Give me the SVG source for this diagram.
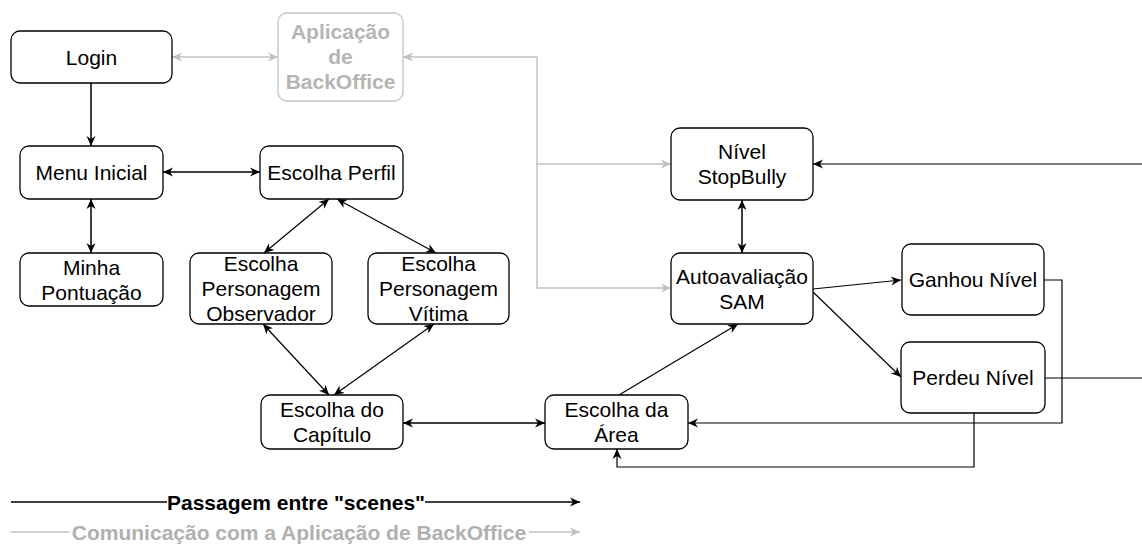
<svg xmlns="http://www.w3.org/2000/svg" width="1142" height="547" viewBox="0 0 1142 547">
<style>
.box{fill:#fff;stroke:#000;stroke-width:1.3}
.gbox{fill:#fff;stroke:#c4c4c4;stroke-width:1.3}
.t{font-family:"Liberation Sans",Arial,sans-serif;font-size:21px;fill:#000;text-anchor:middle}
.gt{font-family:"Liberation Sans",Arial,sans-serif;font-size:21px;font-weight:bold;fill:#b5b5b5;text-anchor:middle}
.e{fill:none;stroke:#000;stroke-width:1.5}
.ed{fill:none;stroke:#000;stroke-width:1.2}
.g{fill:none;stroke:#c0c0c0;stroke-width:1.5}
.lt{font-family:"Liberation Sans",Arial,sans-serif;font-size:21px;font-weight:bold;text-anchor:middle}
</style>
<defs>
<marker id="ab" markerUnits="userSpaceOnUse" markerWidth="12" markerHeight="10" refX="10" refY="5" orient="auto-start-reverse" viewBox="0 0 12 10">
<path d="M0,0.5 L10,5 L0,9.5 L3,5 z" fill="#000"/>
</marker>
<marker id="ag" markerUnits="userSpaceOnUse" markerWidth="12" markerHeight="10" refX="10" refY="5" orient="auto-start-reverse" viewBox="0 0 12 10">
<path d="M0,0.5 L10,5 L0,9.5 L3,5 z" fill="#c0c0c0"/>
</marker>
</defs>
<rect width="1142" height="547" fill="#fff"/>

<g id="connectors">
<path class="g" d="M172,57 H278" marker-start="url(#ag)" marker-end="url(#ag)"/>
<path class="g" d="M403,57 H537 V164 H671" marker-start="url(#ag)" marker-end="url(#ag)"/>
<path class="g" d="M537,164 V288 H671" marker-end="url(#ag)"/>
<path class="e" d="M91,83 V146" marker-end="url(#ab)"/>
<path class="e" d="M163,172 H260" marker-start="url(#ab)" marker-end="url(#ab)"/>
<path class="e" d="M91,199 V253" marker-start="url(#ab)" marker-end="url(#ab)"/>
<path class="ed" d="M329,199 L264,253" marker-start="url(#ab)" marker-end="url(#ab)"/>
<path class="ed" d="M337,199 L436,253" marker-start="url(#ab)" marker-end="url(#ab)"/>
<path class="ed" d="M263,324 L329,395" marker-start="url(#ab)" marker-end="url(#ab)"/>
<path class="ed" d="M434,324 L334,395" marker-start="url(#ab)" marker-end="url(#ab)"/>
<path class="e" d="M403,423 H545" marker-start="url(#ab)" marker-end="url(#ab)"/>
<path class="ed" d="M619,395 L738,324" marker-end="url(#ab)"/>
<path class="e" d="M742,200 V253" marker-start="url(#ab)" marker-end="url(#ab)"/>
<path class="ed" d="M813,289 L901,280" marker-end="url(#ab)"/>
<path class="ed" d="M813,292 L901,377" marker-end="url(#ab)"/>
<path class="ed" d="M1044,280 H1062 V423 H688" marker-end="url(#ab)"/>
<path class="ed" d="M974,413 V467 H617 V449" marker-end="url(#ab)"/>
<path class="ed" d="M1045,378 H1160 V164 H813" marker-end="url(#ab)"/>
</g>

<g id="login"><rect class="box" x="11" y="31" width="161" height="52" rx="9"/><text class="t" x="91.5" y="64.5">Login</text></g>
<g id="backoffice"><rect class="gbox" x="278" y="13" width="125" height="88" rx="9"/>
<text class="gt" x="340.5" y="39">Aplicação</text><text class="gt" x="340.5" y="64">de</text><text class="gt" x="340.5" y="89">BackOffice</text></g>
<g id="menu"><rect class="box" x="20" y="146" width="143" height="53" rx="9"/><text class="t" x="91.5" y="179.5">Menu Inicial</text></g>
<g id="perfil"><rect class="box" x="260" y="146" width="143" height="53" rx="9"/><text class="t" x="331.5" y="179.5">Escolha Perfil</text></g>
<g id="pontuacao"><rect class="box" x="20" y="253" width="143" height="53" rx="9"/><text class="t" x="91.5" y="274.5">Minha</text><text class="t" x="91.5" y="299.5">Pontuação</text></g>
<g id="observador"><rect class="box" x="190" y="253" width="142" height="71" rx="9"/><text class="t" x="261" y="271">Escolha</text><text class="t" x="261" y="296">Personagem</text><text class="t" x="261" y="321">Observador</text></g>
<g id="vitima"><rect class="box" x="368" y="253" width="141" height="71" rx="9"/><text class="t" x="438.5" y="271">Escolha</text><text class="t" x="438.5" y="296">Personagem</text><text class="t" x="438.5" y="321">Vítima</text></g>
<g id="capitulo"><rect class="box" x="261" y="395" width="142" height="54" rx="9"/><text class="t" x="332" y="417">Escolha do</text><text class="t" x="332" y="442">Capítulo</text></g>
<g id="area"><rect class="box" x="545" y="395" width="143" height="54" rx="9"/><text class="t" x="616.5" y="417">Escolha da</text><text class="t" x="616.5" y="442">Área</text></g>
<g id="nivel"><rect class="box" x="671" y="128" width="142" height="72" rx="9"/><text class="t" x="742" y="159">Nível</text><text class="t" x="742" y="184">StopBully</text></g>
<g id="auto"><rect class="box" x="671" y="253" width="142" height="71" rx="9"/><text class="t" x="742" y="283.5">Autoavaliação</text><text class="t" x="742" y="308.5">SAM</text></g>
<g id="ganhou"><rect class="box" x="902" y="244" width="142" height="71" rx="9"/><text class="t" x="973" y="287">Ganhou Nível</text></g>
<g id="perdeu"><rect class="box" x="901" y="342" width="144" height="71" rx="9"/><text class="t" x="973" y="385">Perdeu Nível</text></g>

<g id="legend">
<path class="e" d="M11,502 H167 M425,502 H580" marker-end="url(#ab)"/>
<text class="lt" x="296" y="509.5" fill="#000">Passagem entre "scenes"</text>
<path class="g" d="M11,532 H69 M529,532 H580" marker-end="url(#ag)"/>
<text class="lt" x="299" y="539.5" fill="#b0b0b0">Comunicação com a Aplicação de BackOffice</text>
</g>
</svg>
